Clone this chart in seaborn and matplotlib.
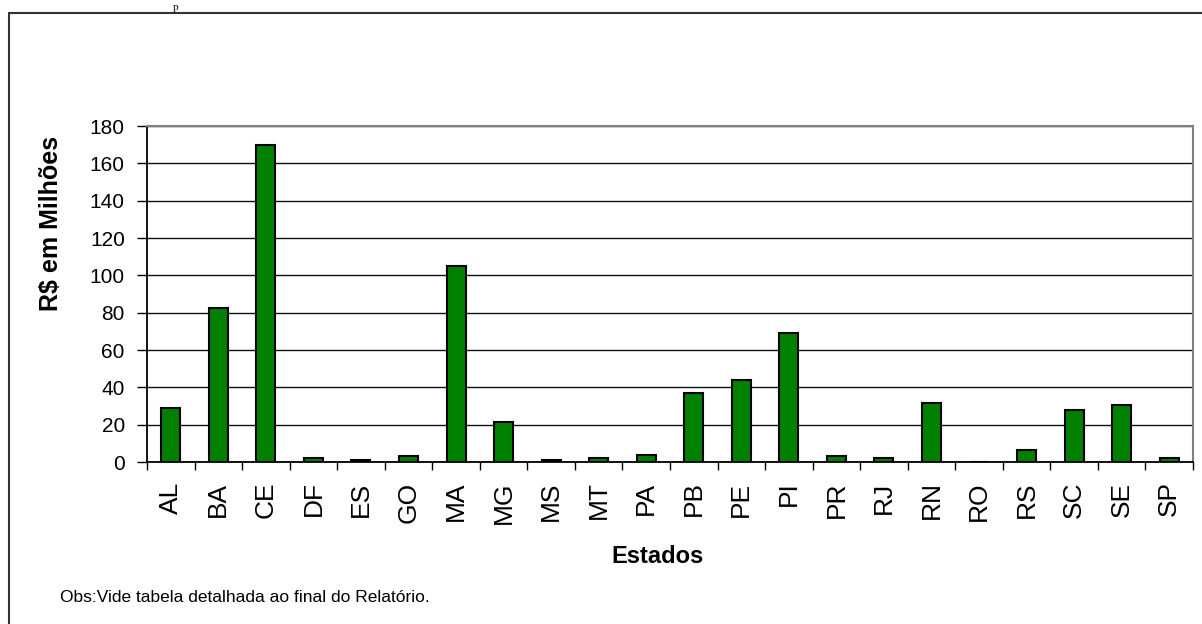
import matplotlib
matplotlib.use('Agg')
import matplotlib.pyplot as plt
from matplotlib.lines import Line2D
import seaborn as sns
import pandas as pd

estados = ['AL', 'BA', 'CE', 'DF', 'ES', 'GO', 'MA', 'MG', 'MS', 'MT', 'PA',
           'PB', 'PE', 'PI', 'PR', 'RJ', 'RN', 'RO', 'RS', 'SC', 'SE', 'SP']
valores = [29, 82.5, 170, 2, 1, 3, 105, 21.5, 1, 2, 4,
           37, 44, 69, 3, 2, 31.5, 0, 6.5, 28, 30.5, 2]
y_ticks = [0, 20, 40, 60, 80, 100, 120, 140, 160, 180]

df = pd.DataFrame({'Estado': estados, 'Valor': valores})

sns.set_style('white')
plt.rcParams['font.family'] = ['Liberation Sans', 'DejaVu Sans']
plt.rcParams['text.color'] = 'black'
plt.rcParams['axes.labelcolor'] = 'black'
plt.rcParams['xtick.color'] = 'black'
plt.rcParams['ytick.color'] = 'black'

fig = plt.figure(figsize=(12.02, 6.24), dpi=100)
ax = fig.add_axes([147 / 1202, 1 - 462 / 624, 1046 / 1202, 336 / 624])

sns.barplot(data=df, x='Estado', y='Valor', color='#008000', width=0.4,
            edgecolor='black', linewidth=1.5, saturation=1, ax=ax, zorder=3)

ax.set_xlim(-0.5, len(estados) - 0.5)
ax.set_ylim(0, 180)
ax.set_yticks(y_ticks)
ax.set_yticklabels([str(t) for t in y_ticks], fontsize=15)
ax.yaxis.grid(True, color='#111111', linewidth=1, zorder=0)
ax.set_axisbelow(True)

# ticks between categories, labels at centres
ax.set_xticks([i - 0.5 for i in range(len(estados) + 1)])
ax.set_xticklabels([])
ax.set_xticks(range(len(estados)), minor=True)
ax.set_xticklabels(estados, minor=True, rotation=90, fontsize=19)
ax.tick_params(axis='x', which='major', direction='out', length=6, width=1, color='black', bottom=True)
ax.tick_params(axis='x', which='minor', length=0, pad=14)
ax.tick_params(axis='y', direction='out', length=7, width=1, color='black', left=True, pad=9)

for side in ['left', 'bottom']:
    ax.spines[side].set_color('black')
    ax.spines[side].set_linewidth(1.3)
for side in ['top', 'right']:
    ax.spines[side].set_visible(True)
    ax.spines[side].set_color('#808080')
    ax.spines[side].set_linewidth(1.5)

ax.set_ylabel('R$ em Milhões', fontsize=18, fontweight='bold')
ax.yaxis.set_label_coords(-0.0915, 0.711)
ax.yaxis.label.set_verticalalignment('center')
ax.set_xlabel('Estados', fontsize=17, fontweight='bold')
ax.xaxis.set_label_coords(0.4876, -0.280)
ax.xaxis.label.set_verticalalignment('center')

fig.text(60 / 1202, 1 - 598 / 624, 'Obs:Vide tabela detalhada ao final do Relatório.',
         fontsize=12.5, va='center', ha='left')

# text from the page above the chart
fig.text(176 / 1202, 1 - 12 / 624, 'p', family='Liberation Serif', fontsize=8,
         ha='center', va='bottom')

# outer frame, continues beyond the right and bottom edges
fig.add_artist(Line2D([9 / 1202, 9 / 1202], [-0.05, 1 - 13 / 624],
                      transform=fig.transFigure, color='#333333', linewidth=1.5))
fig.add_artist(Line2D([9 / 1202, 1.05], [1 - 13 / 624, 1 - 13 / 624],
                      transform=fig.transFigure, color='#333333', linewidth=1.5))

fig.savefig('out.png', dpi=100)
